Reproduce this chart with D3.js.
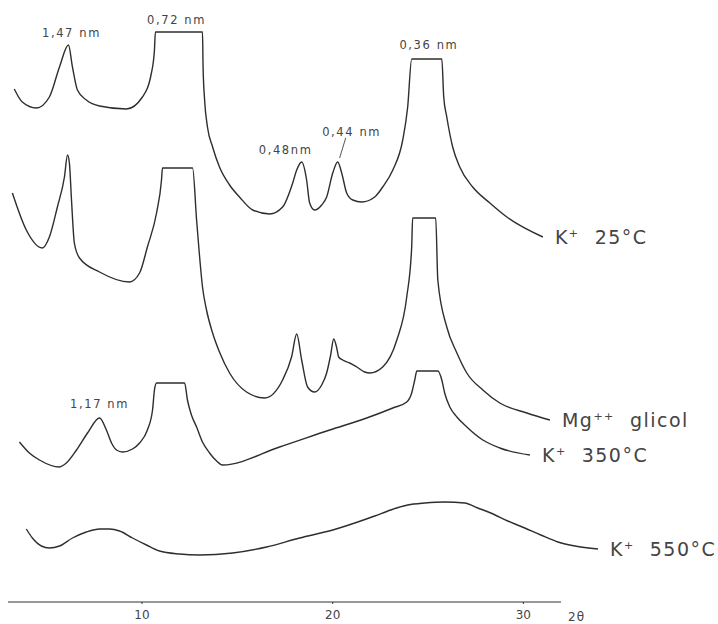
<!DOCTYPE html>
<html>
<head>
<meta charset="utf-8">
<script src="https://cdn.jsdelivr.net/npm/d3@7"></script>
<style>
  body { margin: 0; background: #fff; }
  text { font-family: "DejaVu Sans", sans-serif; fill: #444; }
</style>
</head>
<body>
<svg></svg>
<script>
// diffractograms, [2θ, intensity (arbitrary units, stacked)]
const k25 = [[3.33,102.8],[3.75,100.2],[4.49,99.0],[5.17,101.2],[5.70,107.2],[6.17,111.6],[6.38,107.2],[6.64,102.6],[7.11,100.6],[7.80,99.4],[9.21,98.8],
  [10.05,101.2],[10.52,106.0],[10.68,110.6],[10.73,114.2],[13.20,114.2],[13.23,107.2],[13.31,100.6],[13.46,95.2],[13.73,91.2],[14.09,87.2],[14.62,83.6],
  [15.14,81.2],[15.83,78.6],[16.72,77.8],[17.40,79.2],[17.93,84.0],[18.14,86.6],[18.40,88.2],[18.66,84.6],[18.82,80.0],[19.08,78.6],[19.45,79.6],[19.71,81.2],
  [20.03,86.0],[20.29,88.2],[20.50,86.0],[20.76,82.0],[21.08,80.6],[21.55,80.2],[22.23,81.2],[22.65,83.2],[23.18,86.6],[23.70,92.6],[23.96,99.2],[24.17,108.8],
  [25.75,108.8],[25.85,101.2],[26.01,97.2],[26.32,91.2],[26.69,87.2],[27.37,83.2],[28.27,80.0],[29.16,77.2],[31.05,73.2]]

const mgGlicol = [[3.23,82.0],[3.96,74.6],[4.80,71.0],[5.17,73.2],[5.59,79.2],[5.96,85.2],[6.12,89.6],[6.22,88.0],[6.33,80.6],[6.48,72.0],[6.75,69.0],[7.80,66.2],
  [9.37,64.2],[9.90,66.0],[10.31,71.2],[10.79,78.0],[11.05,84.6],[11.10,87.0],[12.68,87.0],[12.89,76.6],[13.04,69.6],[13.20,63.2],[13.41,58.6],[13.73,54.0],
  [14.09,50.2],[14.62,46.0],[15.51,42.2],[16.46,41.0],[17.40,44.6],[17.87,49.2],[18.14,53.8],[18.40,48.6],[18.71,43.2],[19.08,42.2],[19.45,43.6],[19.71,46.0],
  [19.92,49.6],[20.08,52.8],[20.24,51.0],[20.34,49.2],[20.55,48.6],[20.92,48.0],[21.29,47.2],[21.71,46.2],[21.97,46.0],[22.65,47.2],[23.39,52.6],[23.91,61.2],
  [24.17,71.2],[24.22,77.0],[25.43,77.0],[25.54,64.6],[26.01,55.2],[26.54,50.0],[27.06,46.0],[27.90,42.6],[28.79,40.0],[30.21,38.0],[31.42,36.6]]

const k350 = [[3.60,32.2],[4.12,30.0],[4.65,28.6],[5.70,27.2],[6.06,28.0],[6.59,30.6],[7.17,34.0],[7.80,37.0],[8.16,34.6],[8.43,32.0],[8.69,30.6],[9.00,30.2],
  [9.53,30.8],[9.90,32.0],[10.31,34.6],[10.58,38.6],[10.68,42.6],[10.79,44.0],[12.26,44.0],[12.41,40.6],[12.62,37.6],[12.89,35.2],[13.20,32.2],[13.57,30.0],
  [13.94,28.4],[14.25,27.6],[17.24,31.2],[19.87,34.6],[21.81,37.0],[23.18,39.0],[23.91,40.2],[24.17,42.0],[24.33,44.6],[24.44,46.4],[25.54,46.4],[25.75,44.6],
  [25.90,42.0],[26.17,39.2],[26.54,37.2],[27.06,35.2],[27.90,32.6],[28.79,31.0],[30.37,29.6]]

const k550 = [[3.96,14.8],[4.28,13.0],[4.75,11.4],[5.17,11.0],[5.70,11.4],[6.38,13.0],[7.11,14.2],[7.80,14.8],[8.32,14.8],[8.85,14.4],[9.53,13.0],[10.26,11.6],
  [10.94,10.4],[11.99,9.8],[13.04,9.6],[14.78,10.0],[16.56,11.2],[18.29,13.0],[20.03,14.6],[21.34,16.2],[22.23,17.4],[23.07,18.6],[23.96,19.6],[24.86,20.0],
  [25.90,20.2],[26.95,20.0],[27.64,19.0],[28.32,18.0],[29.21,16.4],[30.10,15.0],[30.94,13.6],[31.84,12.2],[32.73,11.4],[33.94,10.8]]

const series = [k25, mgGlicol, k350, k550]
const seriesLabels = [["K", "+", "  25°C"], ["Mg", "++", "  glicol"], ["K", "+", "  350°C"], ["K", "+", "  550°C"]]

// d-spacing labels: text, 2θ, intensity
const peakLabels = [["1,47 nm", 6.33, 114.0], ["0,72 nm", 11.84, 116.6], ["0,36 nm", 25.07, 111.6],
  ["0,48nm", 17.56, 90.6], ["0,44 nm", 21.02, 94.2], ["1,17 nm", 7.80, 39.8]]
const leader = [[20.71, 93.0], [20.39, 89.0]]

const tickVals = [10, 20, 30]
const axisName = "2θ"

const width = 718, height = 624
const svg = d3.select("svg").attr("width", width).attr("height", height)

const x = d3.scaleLinear().domain([3, 32]).range([8, 561]),
      y = d3.scaleLinear().domain([0, 120]).range([603, 3]),
      line = d3.line().x(d => x(d[0])).y(d => y(d[1])).curve(d3.curveMonotoneX)

svg.selectAll("path.trace").data(series).join("path").attr("class", "trace")
  .attr("d", line).style("fill", "none").style("stroke", "#2e2e2e").style("stroke-width", 1.4)

const lab = svg.selectAll("text.name").data(series).join("text").attr("class", "name")
  .attr("x", d => x(d[d.length - 1][0]) + 12).attr("y", d => y(d[d.length - 1][1]) + 7)
  .style("font-size", "19px").style("letter-spacing", "1.5px").style("white-space", "pre")
lab.append("tspan").text((d, i) => seriesLabels[i][0])
lab.append("tspan").text((d, i) => seriesLabels[i][1]).attr("dy", -7).style("font-size", "11px")
lab.append("tspan").text((d, i) => seriesLabels[i][2]).attr("dy", 7)

svg.selectAll("text.peak").data(peakLabels).join("text").attr("class", "peak")
  .attr("x", d => x(d[1])).attr("y", d => y(d[2]) + 4).text(d => d[0])
  .style("text-anchor", "middle").style("font-size", "11.5px").style("letter-spacing", "1.6px")

svg.append("path").datum(leader).attr("d", d3.line().x(d => x(d[0])).y(d => y(d[1])))
  .style("stroke", "#555").style("stroke-width", 1)

const axis = svg.append("g").attr("transform", `translate(0,${y(0) - 1})`)
  .call(d3.axisBottom(x).tickValues(tickVals).tickSize(2).tickPadding(6))
axis.select(".domain").style("stroke", "#333").style("stroke-width", 1.2).attr("d", `M${x(3)},0H${x(32)}`)
axis.selectAll(".tick line").style("stroke", "#333")
axis.selectAll(".tick text").style("font-size", "12px").style("fill", "#444").style("font-family", "DejaVu Sans, sans-serif")

svg.append("text").text(axisName).attr("x", x(32) + 7).attr("y", y(0) + 18)
  .style("font-size", "12px").style("letter-spacing", "1px")
</script>
</body>
</html>
